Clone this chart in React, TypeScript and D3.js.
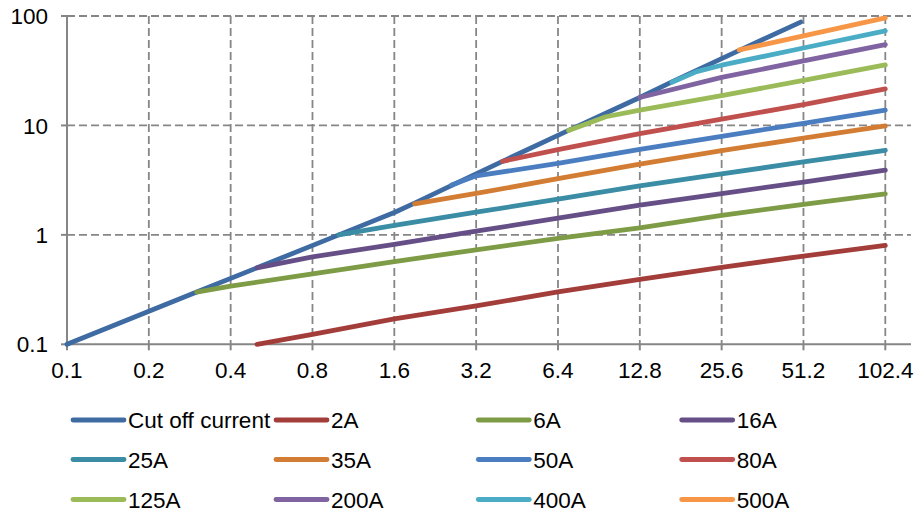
import React from 'react';
import * as d3 from 'd3';

const xTicks = [0.1, 0.2, 0.4, 0.8, 1.6, 3.2, 6.4, 12.8, 25.6, 51.2, 102.4];
const xTickLabels = ['0.1', '0.2', '0.4', '0.8', '1.6', '3.2', '6.4', '12.8', '25.6', '51.2', '102.4'];
const yTicks = [0.1, 1, 10, 100];
const yTickLabels = ['0.1', '1', '10', '100'];

const seriesNames = ['Cut off current', '2A', '6A', '16A', '25A', '35A', '50A', '80A', '125A', '200A', '400A', '500A'];
const seriesColors = ['#3F6BA3', '#A33D3A', '#7E9B45', '#664F87', '#3A8DA4', '#D27D33', '#4A7EC0', '#C0504D', '#9BBB59', '#8064A2', '#4BACC6', '#F79646'];

const cutOff: [number, number][] = [[0.1, 0.1], [0.3, 0.3], [0.5, 0.5], [1, 1], [1.6, 1.6], [1.9, 1.95], [2.5, 2.7], [4, 4.7], [7, 9], [12.8, 18], [16.8, 25], [30, 49], [50, 88]];
const s2A: [number, number][] = [[0.5, 0.1], [0.8, 0.123], [1.6, 0.171], [3.2, 0.224], [6.4, 0.302], [12.8, 0.393], [25.6, 0.505], [51.2, 0.641], [102.4, 0.8]];
const s6A: [number, number][] = [[0.3, 0.3], [0.4, 0.34], [0.8, 0.44], [1.6, 0.57], [3.2, 0.73], [6.4, 0.93], [12.8, 1.16], [25.6, 1.51], [51.2, 1.9], [102.4, 2.37]];
const s16A: [number, number][] = [[0.5, 0.5], [0.8, 0.63], [1.6, 0.82], [3.2, 1.08], [6.4, 1.42], [12.8, 1.87], [25.6, 2.38], [51.2, 3.04], [102.4, 3.9]];
const s25A: [number, number][] = [[1, 1], [1.6, 1.22], [3.2, 1.61], [6.4, 2.12], [12.8, 2.8], [25.6, 3.6], [51.2, 4.64], [102.4, 5.93]];
const s35A: [number, number][] = [[1.9, 1.92], [3.2, 2.39], [6.4, 3.26], [12.8, 4.44], [25.6, 5.9], [51.2, 7.64], [102.4, 9.9]];
const s50A: [number, number][] = [[2.6, 2.85], [3.2, 3.46], [6.4, 4.49], [12.8, 6.05], [25.6, 7.95], [51.2, 10.45], [102.4, 13.8]];
const s80A: [number, number][] = [[4, 4.7], [6.4, 6.0], [12.8, 8.43], [25.6, 11.4], [51.2, 15.5], [102.4, 21.6]];
const s125A: [number, number][] = [[7, 9], [9.6, 12], [12.8, 13.8], [25.6, 18.7], [51.2, 25.8], [102.4, 35.7]];
const s200A: [number, number][] = [[12.8, 18], [25.6, 27.5], [51.2, 38.9], [102.4, 54.8]];
const s400A: [number, number][] = [[16.8, 24.8], [20.7, 31], [25.6, 35.5], [51.2, 51], [102.4, 73]];
const s500A: [number, number][] = [[29.7, 49], [51.2, 65.8], [102.4, 96]];

const seriesData = [cutOff, s2A, s6A, s16A, s25A, s35A, s50A, s80A, s125A, s200A, s400A, s500A];

const FONT = '"Liberation Sans", Arial, sans-serif';

export default function App() {
  const left = 67, right = 885.3, plotRight = 911, top = 16, bottom = 344.3;
  const x = d3.scaleLog().base(2).domain([0.1, 102.4]).range([left, right]);
  const y = d3.scaleLog().base(10).domain([0.1, 100]).range([bottom, top]);
  const line = d3.line<[number, number]>().x(d => x(d[0])).y(d => y(d[1]));
  const gridColor = '#868686';

  const legendCols = [73, 276, 478.3, 681.7];
  const legendRows = [420, 459.5, 499.5];

  return (
    <svg width={916} height={512} style={{ position: 'absolute', left: 0, top: 0, background: '#fff' }} fontFamily={FONT}>
      <rect x={0} y={0} width={916} height={512} fill="#fff" />
      {yTicks.slice(1).map(v => (
        <line key={'hg' + v} x1={left} x2={plotRight} y1={y(v)} y2={y(v)} stroke={gridColor} strokeWidth={1.8} strokeDasharray="8,4" />
      ))}
      {xTicks.slice(1).map(v => (
        <line key={'vg' + v} x1={x(v)} x2={x(v)} y1={top} y2={bottom} stroke={gridColor} strokeWidth={1.8} strokeDasharray="8,4" />
      ))}
      <line x1={left} x2={left} y1={top} y2={bottom} stroke={gridColor} strokeWidth={2} />
      <line x1={left} x2={plotRight} y1={bottom} y2={bottom} stroke={gridColor} strokeWidth={2} />
      {yTicks.map(v => (
        <line key={'yt' + v} x1={left - 6} x2={left} y1={y(v)} y2={y(v)} stroke={gridColor} strokeWidth={2} />
      ))}
      {xTicks.map(v => (
        <line key={'xt' + v} x1={x(v)} x2={x(v)} y1={bottom} y2={bottom + 6} stroke={gridColor} strokeWidth={2} />
      ))}
      {yTicks.map((v, i) => (
        <text key={'yl' + v} x={48} y={y(v)} dy="0.36em" textAnchor="end" fontSize={22.5} fill="#000">{yTickLabels[i]}</text>
      ))}
      {xTicks.map((v, i) => (
        <text key={'xl' + v} x={x(v)} y={377.5} textAnchor="middle" fontSize={22.5} fill="#000">{xTickLabels[i]}</text>
      ))}
      {seriesData.map((d, i) => (
        <path key={'s' + i} d={line(d) || ''} fill="none" stroke={seriesColors[i]} strokeWidth={4.8} strokeLinecap="round" strokeLinejoin="round" />
      ))}
      {seriesNames.map((name, i) => {
        const cx = legendCols[i % 4];
        const cy = legendRows[Math.floor(i / 4)];
        return (
          <g key={'lg' + i}>
            <line x1={cx} x2={cx + 51} y1={cy} y2={cy} stroke={seriesColors[i]} strokeWidth={4.8} strokeLinecap="round" />
            <text x={cx + 55} y={cy + 8} fontSize={22.5} fill="#000">{name}</text>
          </g>
        );
      })}
    </svg>
  );
}
